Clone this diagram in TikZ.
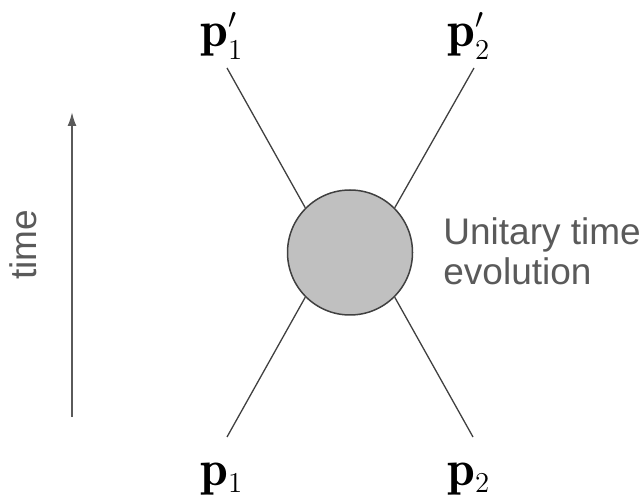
\documentclass[tikz,border=0pt]{standalone}
\usepackage{fontspec}
\newfontfamily\arialfont{Liberation Sans}
\usetikzlibrary{arrows.meta}
\DeclareMathSizes{25}{25}{14}{10}

\definecolor{linegray}{HTML}{404040}
\definecolor{textgray}{HTML}{5A5A5A}
\definecolor{blobgray}{HTML}{C0C0C0}

\tikzset{
    momentum/.style={anchor=base west, inner sep=0pt, font=\fontsize{25}{28}\selectfont},
    leg/.style={draw=linegray, line width=0.65pt},
    caption/.style={inner sep=0pt, text=textgray, font=\arialfont\fontsize{18.5}{20}\selectfont},
}

\begin{document}
\begin{tikzpicture}[x=0.5pt, y=-0.5pt, >={Latex[length=7pt,width=4.5pt]}]
    \useasboundingbox (0,0) rectangle (642,496);

    % --- Cerchio dell'evoluzione ---
    \node[circle, draw=linegray, fill=blobgray, line width=0.75pt,
          minimum size=62.5pt, inner sep=0pt] (blob) at (350,252.5) {};

    % --- Impulsi entranti e uscenti ---
    \node[momentum] (pout1) at (200,47) {$\mathbf{p}'_1$};
    \node[momentum] (pout2) at (447,47) {$\mathbf{p}'_2$};
    \node[momentum] (pin1) at (200,485) {$\mathbf{p}_1$};
    \node[momentum] (pin2) at (447,485) {$\mathbf{p}_2$};

    % estremi liberi delle linee
    \coordinate (out1) at (227,68);
    \coordinate (out2) at (474,68);
    \coordinate (in1) at (227,437);
    \coordinate (in2) at (473,437);

    % \e = estremo libero, \a = angolo sul cerchio
    \foreach \e / \a in {out1/135, out2/45, in1/225, in2/-45} {
        \draw[leg] (\e) -- (blob.\a);
    }

    % --- Testo a destra ---
    \node[caption, anchor=base west, align=left] (unitary) at (443,285) {Unitary time\\evolution};

    % --- Freccia del tempo ---
    \coordinate (t0) at (72,417);
    \coordinate (t1) at (72,112);
    \draw[->, draw=textgray, fill=textgray, line width=1pt] (t0) -- (t1);
    \node[caption, rotate=90] (timelbl) at (23,245) {time};

\end{tikzpicture}
\end{document}
